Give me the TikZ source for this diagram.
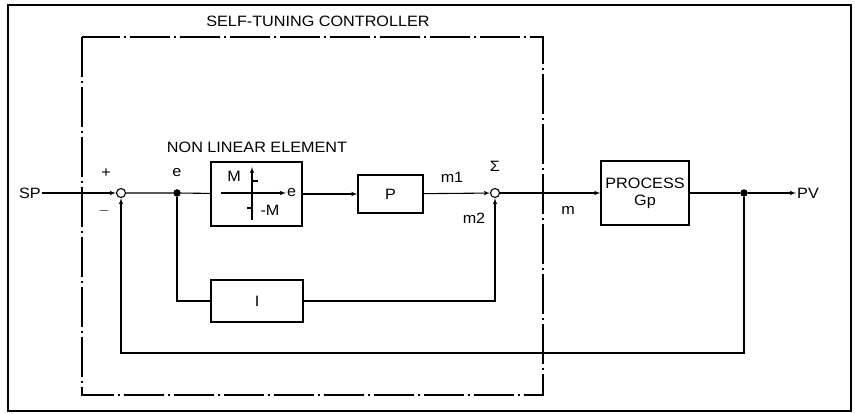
\documentclass[tikz,border=0pt]{standalone}
\usepackage{fontspec}
\setmainfont[FakeStretch=1.08]{Liberation Sans}
\usetikzlibrary{shapes,arrows}

\begin{document}
\begin{tikzpicture}[x=1pt,y=-1pt,
    font=\fontsize{15}{17}\selectfont,
    block/.style ={rectangle, draw=black, line width=1.1pt, fill=white,
      inner sep=0pt},
    junction/.style ={circle, draw=black, line width=1.1pt, fill=white,
      minimum size=9pt, inner sep=0pt},
    branch/.style ={circle, draw=black, fill=black,
      minimum size=7pt, inner sep=0pt},
    label_plain/.style ={rectangle, draw=none, inner sep=1pt},
    line/.style ={draw, line width=1.1pt, -latex', shorten >=0pt},
    wire/.style ={draw, line width=1.1pt},
    dashdot_box/.style ={draw, line width=1.1pt,
      dash pattern=on 40pt off 4pt on 2pt off 4pt}]
    \useasboundingbox (0,0) rectangle (855,414);
    % outer frame and controller frame
    \draw[line width=1.8pt] (8,5) rectangle (851,411);
    \draw[dashdot_box] (82,37) rectangle (543,395);
    \node [label_plain] (title) at (318,21) {SELF-TUNING CONTROLLER};
    % forward path
    \node [label_plain] (sp) at (30,193) {SP};
    \node [junction] (sum1) at (121,193) {};
    \node [branch] (edot) at (177,193) {};
    \node [block, minimum width=91pt, minimum height=64pt] (nle) at (256.5,194) {};
    \node [label_plain] (nletext) at (257,147) {NON LINEAR ELEMENT};
    \node [block, minimum width=65pt, minimum height=38pt] (p) at (390.5,194) {P};
    \node [junction] (sum2) at (495,193) {};
    \node [block, minimum width=88pt, minimum height=64pt, align=center] (process) at (645,193) {PROCESS\\Gp};
    \node [branch] (pvdot) at (744,193) {};
    \node [label_plain] (pv) at (808,193) {PV};
    \node [block, minimum width=92pt, minimum height=42pt] (int) at (257,301) {I};
    % signal labels
    \node [label_plain] (plus) at (106,173) {+};
    \node [label_plain] (minus) at (104,211) {$-$};
    \node [label_plain] (elabel) at (177,173) {e};
    \node [label_plain] (m1) at (452,177) {m1};
    \node [label_plain] (sigma) at (495,166) {Σ};
    \node [label_plain] (m2) at (474,218) {m2};
    \node [label_plain] (m) at (568,210) {m};
    % relay characteristic inside the non linear element
    \coordinate (axl) at (221,193);
    \coordinate (axr) at (286,193);
    \coordinate (axb) at (252,220);
    \coordinate (axt) at (252,167);
    \node [label_plain, anchor=west] (axe) at (axr) {e};
    \node [label_plain] (mpos) at (234,176) {M};
    \node [label_plain] (mneg) at (270,210) {-M};
    \draw[wire] (252,181) -- (258,181);
    \draw[wire] (247,208) -- (252,208);
    % connecting nodes with paths
    \begin{scope}[every path/.style=line]
      \path (axl) -- (axr);
      \path (axb) -- (axt);
      \path (sp) -- (sum1);
      \path (nle) -- (p);
      \path (p) -- (sum2);
      \path (sum2) -- (process);
      \path (pvdot) -- (pv);
      \path (int.east) -| (sum2);
      \path (pvdot) |- (121,353) -- (sum1);
    \end{scope}
    \begin{scope}[every path/.style=wire]
      \path (sum1) -- (edot) -- (nle);
      \path (edot) |- (int.west);
      \path (process) -- (pvdot);
    \end{scope}
  \end{tikzpicture}
\end{document}
